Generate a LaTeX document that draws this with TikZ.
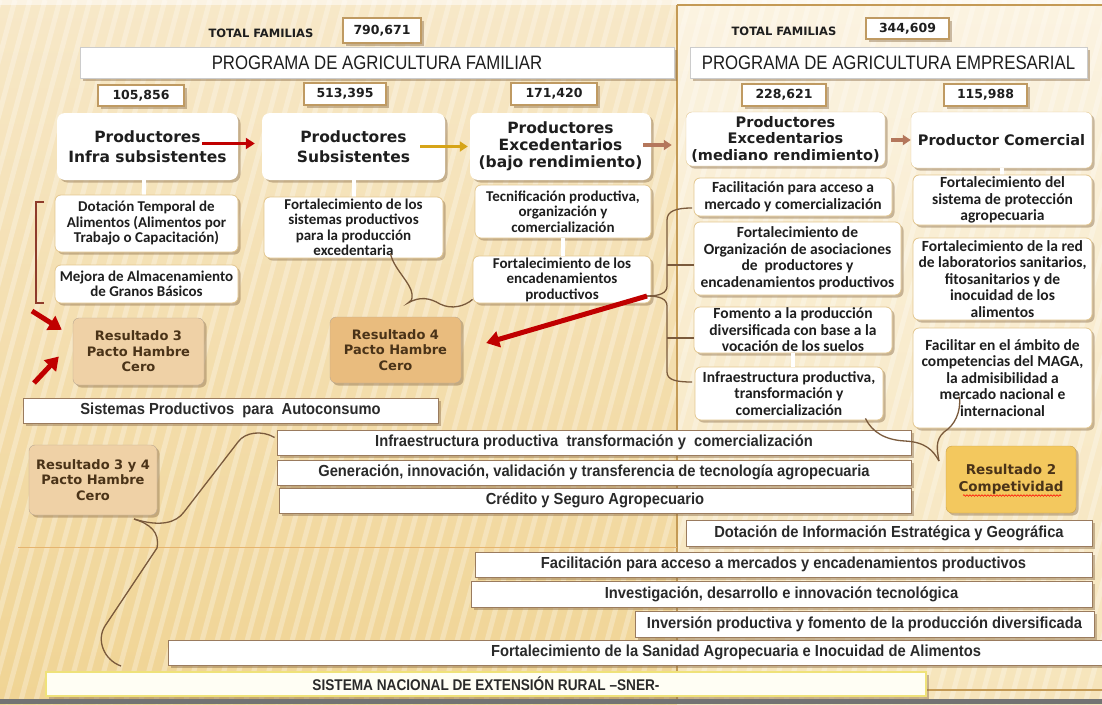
\documentclass[tikz,border=0pt]{standalone}
\usepackage{fontspec}
\setmainfont{Liberation Sans}
\newfontfamily\dvb{DejaVu Sans}
\newfontfamily\crl{Carlito}
\newfontfamily\nrw[FakeStretch=0.86]{Liberation Sans}
\newfontfamily\cnd[FakeStretch=0.92]{Liberation Sans}
\newfontfamily\cndb[FakeStretch=0.88]{Liberation Sans}
\usetikzlibrary{arrows.meta,shadows,calc,decorations.pathmorphing}
\definecolor{bgTop}{HTML}{F7E8C8}
\definecolor{bgBot}{HTML}{F0D494}
\definecolor{bgRTop}{HTML}{FBF3E1}
\definecolor{bgRBot}{HTML}{F6E4BA}
\definecolor{framec}{HTML}{C49A55}
\definecolor{shad}{HTML}{8C6E4A}
\definecolor{numline}{HTML}{BF9A62}
\definecolor{subline}{HTML}{E3C790}
\definecolor{barline}{HTML}{9A7B5E}
\definecolor{txt}{HTML}{1E1E1E}
\definecolor{bartxt}{HTML}{2A2A2A}
\definecolor{restxt}{HTML}{4A3318}
\definecolor{res3c}{HTML}{EFD1A6}
\definecolor{res4c}{HTML}{E9BC7E}
\definecolor{res2c}{HTML}{F3C85E}
\definecolor{res2line}{HTML}{C9A04A}
\definecolor{arrred}{HTML}{C00000}
\definecolor{arrgold}{HTML}{D6A418}
\definecolor{arrbrown}{HTML}{B4775C}
\definecolor{curlc}{HTML}{7A5A3C}
\definecolor{bracketc}{HTML}{8E3B2B}
\definecolor{snerline}{HTML}{EFE27A}
\definecolor{snerfill}{HTML}{FFFEF4}
\definecolor{faintline}{HTML}{E5B46E}
\newcommand\bx[7]{%
 \pgfmathsetmacro\bxw{#5-#3}\pgfmathsetmacro\bxh{#6-#4}%
 \pgfmathsetmacro\bxcx{(#3+#5)/2}\pgfmathsetmacro\bxcy{(#4+#6)/2}%
 \node[#1, minimum width=\bxw pt, minimum height=\bxh pt] (#2) at (\bxcx,\bxcy) {#7};}
\tikzset{
 base/.style={inner sep=0pt, align=center, text=txt},
 shadowed/.style={drop shadow={shadow xshift=2.5pt,shadow yshift=-2.5pt,fill=shad,opacity=0.45}},
 numbox/.style={base, shadowed, fill=white, draw=numline, line width=1.2pt, font=\dvb\bfseries\fontsize{12.5}{14}\selectfont},
 banner/.style={base, shadowed, fill=white, draw=black!20, line width=0.5pt, font=\nrw\fontsize{19.5}{21}\selectfont},
 prodbox/.style={base, shadowed, fill=white, rounded corners=8pt, font=\dvb\bfseries\fontsize{15.5}{19.5}\selectfont},
 prodboxR/.style={base, shadowed, fill=white, draw=subline, rounded corners=6pt, font=\dvb\bfseries\fontsize{14.5}{16.5}\selectfont},
 subbox/.style={base, shadowed, fill=white, draw=subline, line width=0.8pt, rounded corners=6pt, font=\crl\bfseries\fontsize{15}{15.5}\selectfont},
 subboxR/.style={subbox, font=\crl\bfseries\fontsize{15.5}{16.5}\selectfont},
 resbox/.style={base, shadowed, rounded corners=6pt, draw=shad!60, text=restxt, font=\dvb\bfseries\fontsize{13}{15.5}\selectfont},
 bar/.style={base, shadowed, fill=white, draw=barline, line width=0.8pt, text=bartxt, font=\cnd\bfseries\fontsize{16}{18}\selectfont},
 totlabel/.style={text=txt, font=\dvb\bfseries\fontsize{11.5}{13}\selectfont},
 arR/.style={draw=arrred, line width=3.5pt, -{Triangle[length=9pt,width=11pt]}},
 arRbig/.style={draw=arrred, line width=5pt, -{Triangle[length=13pt,width=16pt]}},
 arG/.style={draw=arrgold, line width=3.5pt, -{Triangle[length=8pt,width=10pt]}},
 arB/.style={draw=arrbrown, line width=3.5pt, -{Triangle[length=8pt,width=10pt]}},
 wconn/.style={draw=white, line width=4pt},
 curl/.style={draw=curlc, line width=1.3pt},
}
\begin{document}
\begin{tikzpicture}[x=1pt,y=-1pt]
\useasboundingbox (0,0) rectangle (1102,704);
\clip (0,0) rectangle (1102,704);
% background
\shade[top color=bgTop,bottom color=bgBot] (0,0) rectangle (677,704);
\shade[top color=bgRTop,bottom color=bgRBot] (677,0) rectangle (1102,704);
\foreach \i in {0,15,...,1320} \draw[white, opacity=0.28, line width=5pt] (\i,0) -- ({\i-190},704);
\fill[white,opacity=0.5] (0,0) rectangle (1102,5);
\draw[framec, line width=2pt] (677,5) -- (1102,5);
\draw[framec, line width=2pt] (677,5) -- (677,699);
\draw[framec, line width=1.2pt] (677,690) -- (1102,690);
\draw[faintline, line width=1pt] (18,547) -- (677,547);
\fill[black!55] (0,699) rectangle (1102,704);

% header
\node[totlabel] (totL) at (261,33) {TOTAL FAMILIAS};
\bx{numbox}{n790}{343}{18}{421}{43}{790,671}
\node[totlabel] (totR) at (784,31) {TOTAL FAMILIAS};
\bx{numbox}{n344}{866}{18}{949}{39}{344,609}
\bx{banner}{banL}{80}{47}{674}{78}{PROGRAMA DE AGRICULTURA FAMILIAR}
\bx{banner}{banR}{690}{47}{1087}{78}{PROGRAMA DE AGRICULTURA EMPRESARIAL}
\bx{numbox}{n105}{98}{85}{184}{106}{105,856}
\bx{numbox}{n513}{304}{83}{386}{105}{513,395}
\bx{numbox}{n171}{511}{83}{597}{105}{171,420}
\bx{numbox}{n228}{742}{84}{826}{106}{228,621}
\bx{numbox}{n115}{944}{84}{1027}{106}{115,988}

% producers
\bx{prodbox}{infra}{57}{113}{238}{180}{Productores\\Infra subsistentes}
\bx{prodbox}{subs}{262}{113}{445}{180}{Productores\\Subsistentes}
\bx{prodbox, font=\dvb\bfseries\fontsize{15.5}{17}\selectfont}{excB}{470}{113}{651}{180}{Productores\\Excedentarios\\(bajo rendimiento)}
\bx{prodboxR}{excM}{686}{112}{885}{166}{Productores\\Excedentarios\\(mediano rendimiento)}
\bx{prodboxR}{comer}{911}{112}{1092}{168}{Productor Comercial}

% white connectors
\draw[wconn] ([xshift=-4pt]infra.south) -- ([xshift=-4pt]infra.south |- 0,195);
\draw[wconn] (subs.south) -- (subs.south |- 0,197);
\draw[wconn] (comer.south) -- (comer.south |- 0,175);

% left sub boxes
\bx{subbox}{dot}{55}{195}{238}{252}{Dotación Temporal de\\Alimentos (Alimentos por\\Trabajo o Capacitación)}
\bx{subbox}{mejora}{55}{265}{238}{303}{Mejora de Almacenamiento\\de Granos Básicos}
\bx{subbox}{fsis}{264}{197}{443}{258}{Fortalecimiento de los\\sistemas productivos\\para la producción\\excedentaria}
\bx{subbox}{tecn}{475}{185}{651}{238}{Tecnificación productiva,\\organización y\\comercialización}
\bx{subbox}{encad}{473}{256}{651}{303}{Fortalecimiento de los\\encadenamientos\\productivos}
\draw[wconn] (tecn.south) -- (tecn.south |- encad.north);

% right sub boxes
\bx{subboxR}{facil}{694}{178}{892}{216}{Facilitación para acceso a\\mercado y comercialización}
\bx{subboxR}{forg}{694}{222}{901}{295}{Fortalecimiento de\\Organización de asociaciones\\de\ \ productores y\\encadenamientos productivos}
\bx{subboxR}{fomen}{694}{307}{892}{353}{Fomento a la producción\\diversificada con base a la\\vocación de los suelos}
\bx{subboxR}{infrR}{695}{367}{883}{420}{Infraestructura productiva,\\transformación y\\comercialización}
\draw[wconn] (fomen.south) -- (fomen.south |- infrR.north);
\bx{subboxR}{prot}{913}{175}{1092}{225}{Fortalecimiento del\\sistema de protección\\agropecuaria}
\bx{subboxR}{redlab}{913}{238}{1092}{320}{Fortalecimiento de la red\\de laboratorios sanitarios,\\fitosanitarios y de\\inocuidad de los\\alimentos}
\bx{subboxR}{maga}{913}{328}{1092}{428}{Facilitar en el ámbito de\\competencias del MAGA,\\la admisibilidad a\\mercado nacional e\\internacional}

% results
\bx{resbox, fill=res3c}{res3}{73}{318}{204}{385}{Resultado 3\\Pacto Hambre\\Cero}
\bx{resbox, fill=res4c}{res4}{330}{317}{461}{383}{Resultado 4\\Pacto Hambre\\Cero}
\bx{resbox, fill=res3c}{res34}{29}{445}{157}{515}{Resultado 3 y 4\\Pacto Hambre\\Cero}
\bx{resbox, fill=res2c, draw=res2line, font=\dvb\bfseries\fontsize{13.5}{17}\selectfont}{res2}{946}{446}{1076}{513}{Resultado 2\\Competividad}
\draw[red, line width=0.6pt, decorate, decoration={snake, amplitude=0.8pt, segment length=3pt}] ($(res2.center)+(-48,16)$) -- ($(res2.center)+(50,16)$);

% bars
\bx{bar}{sist}{23}{398}{438}{423}{Sistemas Productivos\ \ para\ \ Autoconsumo}
\bx{bar}{bInfra}{277}{430}{911}{455}{Infraestructura productiva\ \ transformación y\ \ comercialización}
\bx{bar}{bGen}{277}{460}{911}{485}{Generación, innovación, validación y transferencia de tecnología agropecuaria}
\bx{bar}{bCred}{279}{488}{911}{513}{Crédito y Seguro Agropecuario}
\bx{bar}{bDot}{686}{520}{1092}{546}{Dotación de Información Estratégica y Geográfica}
\bx{bar}{bFacil}{475}{552}{1092}{577}{Facilitación para acceso a mercados y encadenamientos productivos}
\bx{bar}{bInv}{471}{581}{1092}{607}{Investigación, desarrollo e innovación tecnológica}
\bx{bar}{bInvers}{635}{611}{1094}{637}{Inversión productiva y fomento de la producción diversificada}
\bx{bar}{bSan}{168}{640}{1104}{665}{}
\node[text=bartxt, font=\cnd\bfseries\fontsize{16}{18}\selectfont] (bSanT) at (736,652.5) {Fortalecimiento de la Sanidad Agropecuaria e Inocuidad de Alimentos};
\bx{bar, fill=snerfill, draw=snerline, line width=2pt, font=\cndb\bfseries\fontsize{15.5}{17}\selectfont}{bSNER}{46}{672}{926}{696}{SISTEMA NACIONAL DE EXTENSIÓN RURAL –SNER-}

% arrows between producers
\draw[arR] ([xshift=-36pt,yshift=3pt]infra.east) -- ([xshift=-7pt,yshift=3pt]subs.west);
\draw[arG] ([xshift=-25pt]subs.east) -- ([xshift=-2pt]excB.west);
\draw[arB] ([xshift=-8pt,yshift=1.5pt]excB.east) -- ([xshift=-14pt,yshift=-6pt]excM.west);
\draw[arB] ([xshift=6pt,yshift=-1pt]excM.east) -- (comer.west);

% left bracket
\draw[bracketc, line width=1.2pt] (44,202) -- (36,202) -- (36,303) -- (44,303);

% right brace
\coordinate (bmid) at (647,296);
\draw[curl] (692,208) .. controls (676,208) and (667,211) .. (667,220) -- (667,286) .. controls (667,293) and (660,296) .. (bmid);
\draw[curl] (bmid) .. controls (660,296) and (667,299) .. (667,306) -- (667,372) .. controls (667,380) and (676,382) .. (692,382);
\draw[curl] (667,265) -- (forg.west |- 0,265);
\draw[curl] (667,338) -- (fomen.west |- 0,338);

% squiggle fsis -> encad
\draw[curl] ($(fsis.south)+(37,-5)$) .. controls (393,268) and (411,283) .. (412,294) .. controls (413,300) and (410,302) .. (408,303) .. controls (420,296) and (430,298) .. (440,304) .. controls (452,310) and (465,306) .. ($(encad.south west)+(0,-4)$);

% big brace to Resultado 3 y 4
\coordinate (tip34) at (134,519);
\draw[curl] ($(bInfra.west)+(-2,-5)$) .. controls (262,430) and (245,432) .. (238,442) -- (184,512) .. controls (176,523) and (160,527) .. (tip34);
\draw[curl] (tip34) .. controls (150,524) and (160,532) .. (157,548) -- (105,626) .. controls (96,640) and (104,660) .. ($(bSNER.north west)+(76,-5)$);

% brace to Resultado 2
\coordinate (tip2) at (939,461);
\draw[curl] ($(infrR.south east)+(-18,-2)$) .. controls (872,432) and (885,440) .. (905,441) .. controls (925,442) and (933,450) .. (tip2);
\draw[curl] ($(maga.north)+(-43,69)$) .. controls (961,412) and (955,425) .. (944,432) .. controls (935,440) and (937,450) .. (tip2);

% red arrows to results
\coordinate (ra1) at (32,311);
\coordinate (ra2) at (34,383);
\draw[arRbig] (ra1) -- ($(res3.north west)+(-11,12)$);
\draw[arRbig] (ra2) -- ($(res3.west)+(-14,5)$);
\draw[arRbig] (bmid) -- ($(res4.east)+(25,-7)$);
\end{tikzpicture}
\end{document}
